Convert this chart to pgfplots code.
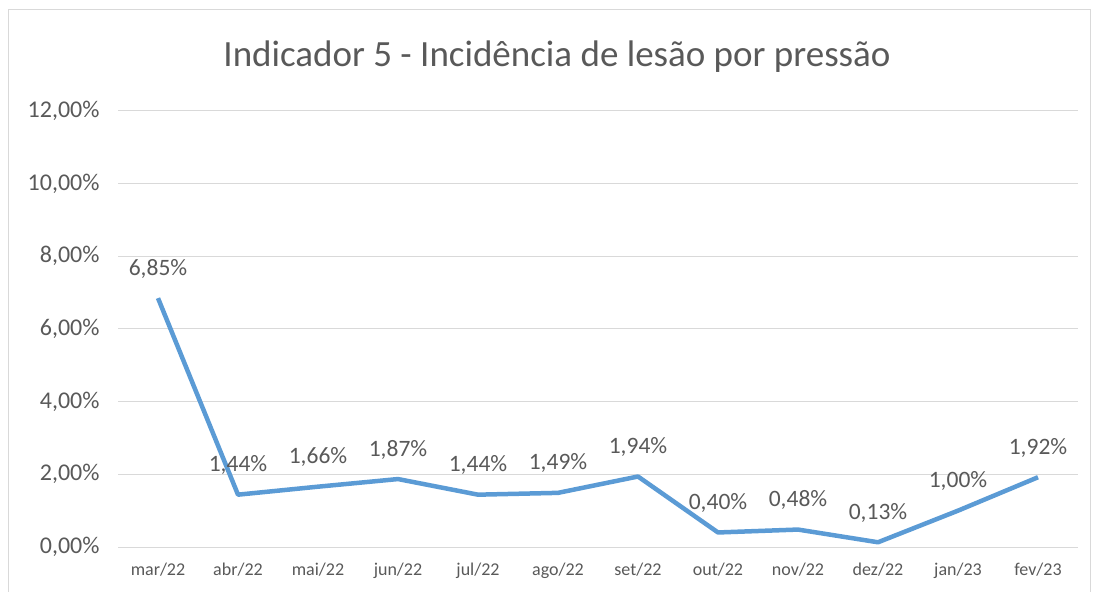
\documentclass[border=0pt]{standalone}
\usepackage{pgfplots}
\pgfplotsset{compat=1.18}
\usepackage{pgfplotstable}
\usepackage{fontspec}
\setmainfont{Carlito}
\definecolor{lineblue}{HTML}{5B9BD5}
\definecolor{gridgray}{HTML}{D9D9D9}
\definecolor{txtgray}{HTML}{595959}
\pgfplotstableread{
x y
0 6.85
1 1.44
2 1.66
3 1.87
4 1.44
5 1.49
6 1.94
7 0.40
8 0.48
9 0.13
10 1.00
11 1.92
}\datatable
\begin{document}
\begin{tikzpicture}
\useasboundingbox (0,0) rectangle (1098bp,592bp);
\draw[gridgray, line width=1bp] (8bp,-5bp) -- (8bp,582bp) -- (1090bp,582bp) -- (1090bp,-5bp);
\node[text=txtgray, font=\fontsize{37bp}{40bp}\selectfont] at (557bp,535bp) {Indicador 5 - Incidência de lesão por pressão};
\begin{axis}[
  at={(118bp,45bp)}, anchor=south west,
  scale only axis, width=960bp, height=436bp,
  xmin=-0.5, xmax=11.5, ymin=0, ymax=12,
  xtick={0,...,11},
  xticklabels={mar/22,abr/22,mai/22,jun/22,jul/22,ago/22,set/22,out/22,nov/22,dez/22,jan/23,fev/23},
  ytick={0,2,...,12},
  yticklabel={\pgfmathprintnumber[fixed,fixed zerofill,precision=2,use comma,assume math mode=true]{\tick}\%},
  ymajorgrids, grid style={gridgray, line width=1bp},
  axis line style={draw=none},
  major tick length=0pt,
  x tick label style={font=\fontsize{18bp}{20bp}\selectfont, text=txtgray, yshift=-12bp},
  y tick label style={font=\fontsize{24bp}{26bp}\selectfont, text=txtgray, xshift=-15bp},
  clip=false,
  nodes near coords={\pgfmathprintnumber[fixed,fixed zerofill,precision=2,use comma,assume math mode=true]{\pgfplotspointmeta}\%},
  every node near coord/.append style={anchor=base, yshift=23bp, inner sep=0pt, text=txtgray, font=\fontsize{23.5bp}{25bp}\selectfont},
]
\addplot[lineblue, line width=4.5bp, line join=round, mark=none] table[x=x,y=y] {\datatable};
\end{axis}
\end{tikzpicture}
\end{document}
